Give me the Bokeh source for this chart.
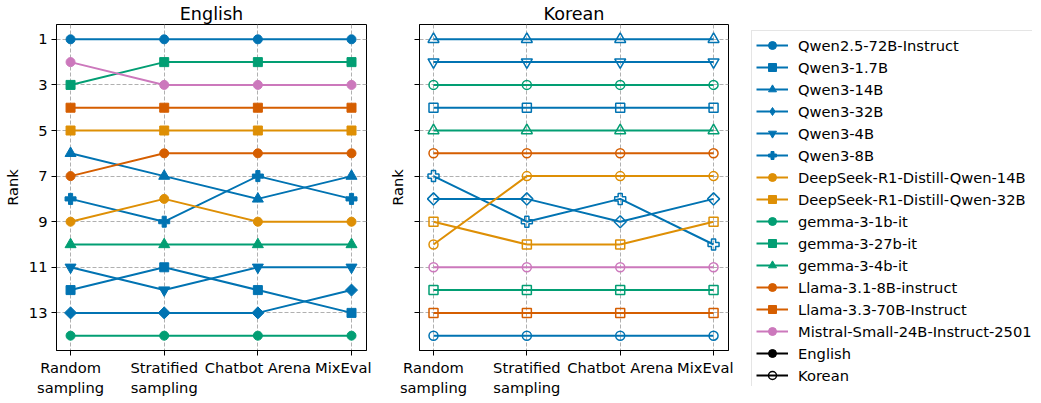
import math
from bokeh.plotting import figure
from bokeh.layouts import row
from bokeh.models import Range1d, FixedTicker, Legend, LegendItem, ColumnDataSource
from bokeh.embed import file_html
from bokeh.resources import INLINE

categories = ["Random\nsampling", "Stratified\nsampling", "Chatbot Arena", "MixEval"]
models = ["Qwen2.5-72B-Instruct", "Qwen3-1.7B", "Qwen3-14B", "Qwen3-32B", "Qwen3-4B",
          "Qwen3-8B", "DeepSeek-R1-Distill-Qwen-14B", "DeepSeek-R1-Distill-Qwen-32B",
          "gemma-3-1b-it", "gemma-3-27b-it", "gemma-3-4b-it", "Llama-3.1-8B-instruct",
          "Llama-3.3-70B-Instruct", "Mistral-Small-24B-Instruct-2501"]
y_ticks = [1, 3, 5, 7, 9, 11, 13]

# English ranks (per model, over the 4 categories)
en_qwen25_72b = [1, 1, 1, 1]
en_qwen3_1_7b = [12, 11, 12, 13]
en_qwen3_14b = [6, 7, 8, 7]
en_qwen3_32b = [13, 13, 13, 12]
en_qwen3_4b = [11, 12, 11, 11]
en_qwen3_8b = [8, 9, 7, 8]
en_ds_14b = [9, 8, 9, 9]
en_ds_32b = [5, 5, 5, 5]
en_gemma_1b = [14, 14, 14, 14]
en_gemma_27b = [3, 2, 2, 2]
en_gemma_4b = [10, 10, 10, 10]
en_llama31_8b = [7, 6, 6, 6]
en_llama33_70b = [4, 4, 4, 4]
en_mistral = [2, 3, 3, 3]

# Korean ranks
ko_qwen25_72b = [14, 14, 14, 14]
ko_qwen3_1_7b = [4, 4, 4, 4]
ko_qwen3_14b = [1, 1, 1, 1]
ko_qwen3_32b = [8, 8, 9, 8]
ko_qwen3_4b = [2, 2, 2, 2]
ko_qwen3_8b = [7, 9, 8, 10]
ko_ds_14b = [10, 7, 7, 7]
ko_ds_32b = [9, 10, 10, 9]
ko_gemma_1b = [3, 3, 3, 3]
ko_gemma_27b = [12, 12, 12, 12]
ko_gemma_4b = [5, 5, 5, 5]
ko_llama31_8b = [6, 6, 6, 6]
ko_llama33_70b = [13, 13, 13, 13]
ko_mistral = [11, 11, 11, 11]

english = [en_qwen25_72b, en_qwen3_1_7b, en_qwen3_14b, en_qwen3_32b, en_qwen3_4b, en_qwen3_8b,
           en_ds_14b, en_ds_32b, en_gemma_1b, en_gemma_27b, en_gemma_4b, en_llama31_8b,
           en_llama33_70b, en_mistral]
korean = [ko_qwen25_72b, ko_qwen3_1_7b, ko_qwen3_14b, ko_qwen3_32b, ko_qwen3_4b, ko_qwen3_8b,
          ko_ds_14b, ko_ds_32b, ko_gemma_1b, ko_gemma_27b, ko_gemma_4b, ko_llama31_8b,
          ko_llama33_70b, ko_mistral]

BLUE, ORANGE, GREEN, RED, PINK = "#0173b2", "#de8f05", "#029e73", "#d55e00", "#cc78bc"
colors = [BLUE] * 6 + [ORANGE] * 2 + [GREEN] * 3 + [RED] * 2 + [PINK]
markers = ["circle", "square", "triangle", "diamond", "inverted_triangle", "plus",
           "circle", "square", "circle", "square", "triangle", "circle", "square", "circle"]
# Bokeh glyph for each marker: (bokeh marker, size, angle)
mstyle = {"circle": ("circle", 9, 0.0), "square": ("square", 9, 0.0),
          "triangle": ("triangle", 11, 0.0), "diamond": ("square", 8.5, math.pi / 4),
          "inverted_triangle": ("inverted_triangle", 11, 0.0), "plus": ("plus", 11, 0.0)}
# legend glyphs ignore the angle, so the legend uses Bokeh's own diamond
legend_style = dict(mstyle, diamond=("diamond", 13, 0.0))

FONT = "DejaVu Sans"
FS = "14.7px"
xs = list(range(len(categories)))
FRAME_H = 326


def add_marks(p, src, c, m, filled, lw=1.0, styles=mstyle):
    mk, sz, ang = styles[m]
    return p.scatter("x", "y", source=src, marker=mk, size=sz, angle=ang, line_color=c,
                     fill_color=c if filled else None, line_width=lw)


def make_fig(title, data, filled, frame_w, left, show_labels):
    p = figure(frame_width=frame_w, frame_height=FRAME_H, output_backend="svg",
               toolbar_location=None,
               x_range=Range1d(-0.15, 3.16), y_range=Range1d(14.65, 0.35),
               min_border_left=left, min_border_right=5, min_border_top=18,
               min_border_bottom=10)
    p.title.text = title
    p.title.align = "center"
    p.title.text_font = FONT
    p.title.text_font_size = "17.6px"
    p.title.text_font_style = "normal"
    p.title.text_color = "black"
    p.title.standoff = 2
    p.outline_line_color = "black"
    p.outline_line_width = 1
    p.xaxis.ticker = FixedTicker(ticks=xs)
    p.xaxis.major_label_overrides = {i: c for i, c in enumerate(categories)}
    p.yaxis.ticker = FixedTicker(ticks=y_ticks)
    if show_labels:
        p.yaxis.axis_label_standoff = 5
    else:
        p.yaxis.major_label_overrides = {t: "" for t in y_ticks}
        p.yaxis.axis_label_standoff = 9
    p.yaxis.axis_label = "Rank"
    for ax in (p.xaxis, p.yaxis):
        ax.major_label_text_font = FONT
        ax.major_label_text_font_size = FS
        ax.major_label_text_color = "black"
        ax.axis_label_text_font = FONT
        ax.axis_label_text_font_size = FS
        ax.axis_label_text_font_style = "normal"
        ax.axis_label_text_color = "black"
        ax.minor_tick_line_color = None
        ax.major_tick_out = 5
        ax.major_tick_in = 0
        ax.major_tick_line_color = "black"
        ax.axis_line_color = "black"
    p.xaxis.major_label_standoff = 3
    p.yaxis.major_label_standoff = 4
    p.grid.grid_line_color = "#b0b0b0"
    p.grid.grid_line_dash = "4 2"
    p.grid.grid_line_width = 1
    p.xgrid.ticker = FixedTicker(ticks=xs)
    p.ygrid.ticker = FixedTicker(ticks=y_ticks)
    for vals, c, m in zip(data, colors, markers):
        src = ColumnDataSource(dict(x=xs, y=vals))
        p.line("x", "y", source=src, line_color=c, line_width=2)
        add_marks(p, src, c, m, filled, 1.0 if filled else 1.5)
    return p


p_en = make_fig("English", english, True, 310, 49, True)
p_ko = make_fig("Korean", korean, False, 309, 48, False)

# Legend panel: a frame covering the whole panel
p_leg = figure(frame_width=299, frame_height=386, output_backend="svg",
               toolbar_location=None, x_range=Range1d(0, 1), y_range=Range1d(0, 1),
               min_border=0)
p_leg.axis.visible = False
p_leg.grid.visible = False
p_leg.outline_line_color = None

items = []
off = dict(x=[-10], y=[-10])
for name, c, m in zip(models, colors, markers):
    src = ColumnDataSource(off)
    r1 = p_leg.line("x", "y", source=src, line_color=c, line_width=2)
    r2 = add_marks(p_leg, src, c, m, True, styles=legend_style)
    items.append(LegendItem(label=name, renderers=[r1, r2]))
src = ColumnDataSource(off)
r1 = p_leg.line("x", "y", source=src, line_color="black", line_width=2)
r2 = add_marks(p_leg, src, "black", "circle", True)
items.append(LegendItem(label="English", renderers=[r1, r2]))
src = ColumnDataSource(off)
r1 = p_leg.line("x", "y", source=src, line_color="black", line_width=2)
r2 = add_marks(p_leg, src, "black", "circle", False, 1.5)
items.append(LegendItem(label="Korean", renderers=[r1, r2]))

legend = Legend(items=items, location=(18, -4))
legend.label_text_font = FONT
legend.label_text_font_size = FS
legend.label_text_color = "black"
legend.label_height = 20
legend.glyph_height = 20
legend.glyph_width = 32
legend.label_standoff = 10
legend.spacing = 2
legend.padding = 4
legend.margin = 0
legend.border_line_color = "#cccccc"
legend.border_line_width = 1
legend.background_fill_alpha = 1
p_leg.add_layout(legend, "center")

layout = row(p_en, p_ko, p_leg)
open("out.html", "w").write(file_html(layout, INLINE))
